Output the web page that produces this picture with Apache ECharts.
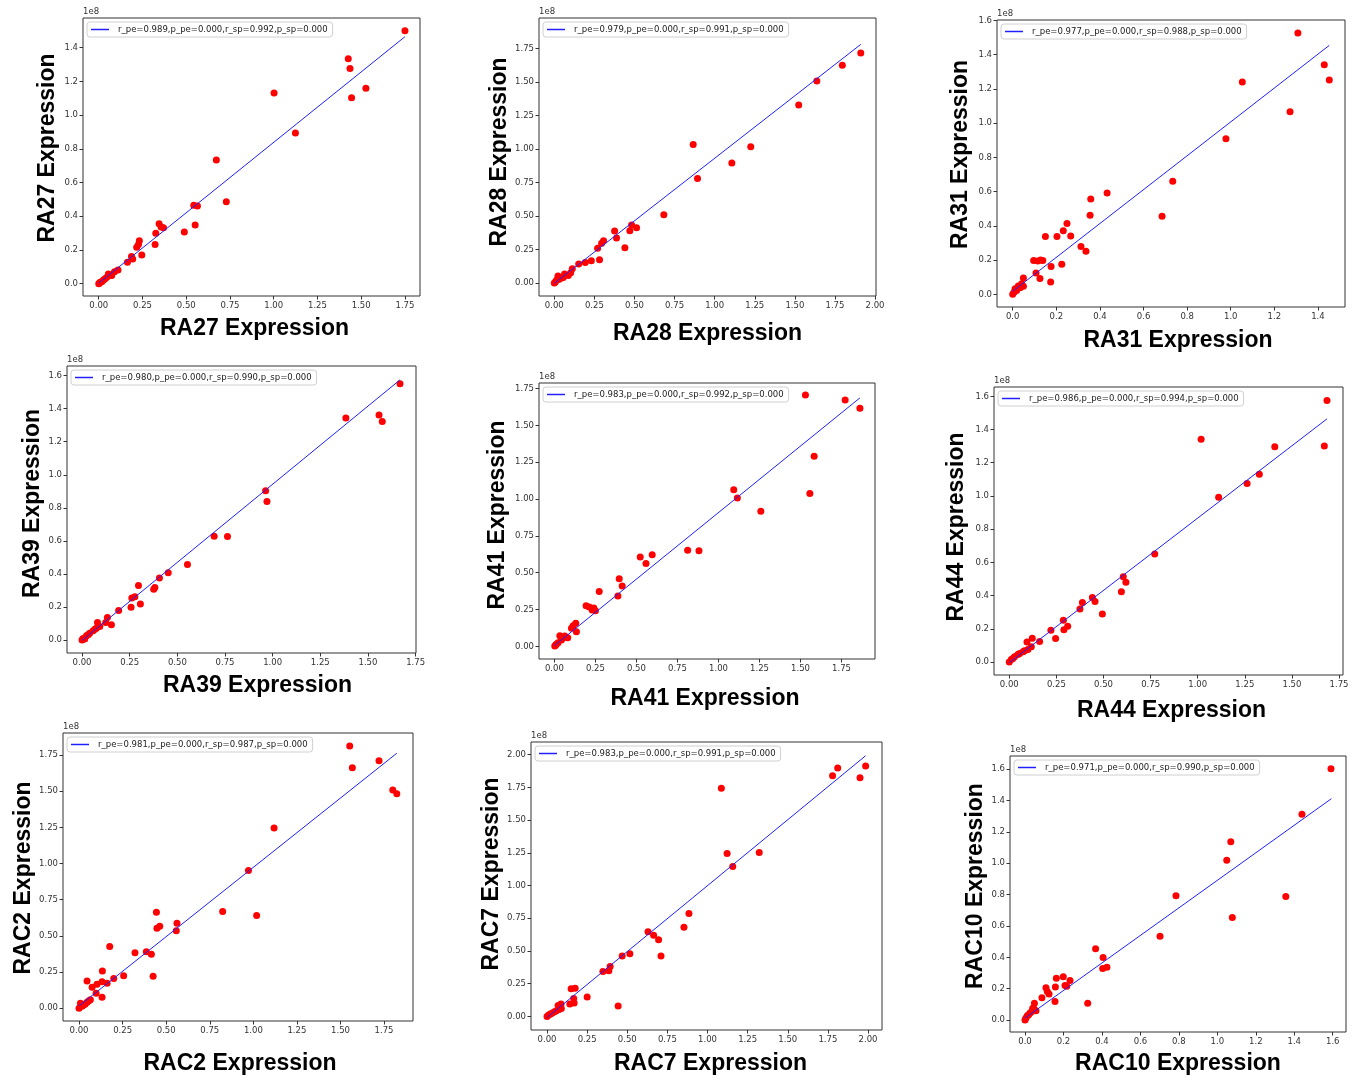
<!DOCTYPE html>
<html>
<head>
<meta charset="utf-8">
<title>Expression scatter</title>
<script src="https://cdn.jsdelivr.net/npm/echarts@6/dist/echarts.min.js"></script>
<style>
  html, body { margin: 0; padding: 0; background: #fff; }
  #main { width: 1361px; height: 1080px; }
</style>
</head>
<body>
<div id="main"></div>
<script>
// values are in units of 1e8
var panelNames = ['RA27', 'RA28', 'RA31', 'RA39', 'RA41', 'RA44', 'RAC2', 'RAC7', 'RAC10'];
var statLabels = [
    'r_pe=0.989,p_pe=0.000,r_sp=0.992,p_sp=0.000',
    'r_pe=0.979,p_pe=0.000,r_sp=0.991,p_sp=0.000',
    'r_pe=0.977,p_pe=0.000,r_sp=0.988,p_sp=0.000',
    'r_pe=0.980,p_pe=0.000,r_sp=0.990,p_sp=0.000',
    'r_pe=0.983,p_pe=0.000,r_sp=0.992,p_sp=0.000',
    'r_pe=0.986,p_pe=0.000,r_sp=0.994,p_sp=0.000',
    'r_pe=0.981,p_pe=0.000,r_sp=0.987,p_sp=0.000',
    'r_pe=0.983,p_pe=0.000,r_sp=0.991,p_sp=0.000',
    'r_pe=0.971,p_pe=0.000,r_sp=0.990,p_sp=0.000'
];

var pointsRA27 = [[1.75,1.501],[1.426,1.335],[1.436,1.277],[1.527,1.159],[1.445,1.103],[1.002,1.131],[1.124,0.894],[0.672,0.734],[0.729,0.486],[0.543,0.465],[0.564,0.461],[0.551,0.348],[0.489,0.307],[0.345,0.356],[0.356,0.336],[0.370,0.332],[0.326,0.299],[0.322,0.233],[0.232,0.255],[0.227,0.233],[0.217,0.216],[0.246,0.170],[0.187,0.162],[0.194,0.146],[0.164,0.127],[0.110,0.081],[0.090,0.071],[0.065,0.051],[0.046,0.038],[0.027,0.022],[0.008,0.008],[0,0],[0.055,0.057],[0.074,0.049],[0.017,0.012],[0.036,0.030],[0.004,0.004]];
var pointsRA28 = [[1.911,1.718],[1.796,1.626],[1.637,1.509],[1.524,1.330],[1.225,1.017],[1.107,0.897],[0.866,1.034],[0.893,0.781],[0.683,0.510],[0.482,0.433],[0.513,0.413],[0.471,0.390],[0.440,0.263],[0.376,0.388],[0.388,0.336],[0.307,0.316],[0.295,0.296],[0.270,0.259],[0.282,0.174],[0.231,0.167],[0.193,0.154],[0.152,0.142],[0.112,0.107],[0.102,0.077],[0.087,0.057],[0.064,0.067],[0.023,0.052],[0.042,0.035],[0.015,0.022],[0,0],[0.006,0.007],[0.056,0.042],[0.027,0.027]];
var pointsRA31 = [[1.308,1.526],[1.429,1.341],[1.452,1.251],[1.053,1.240],[1.272,1.066],[0.978,0.908],[0.734,0.661],[0.685,0.456],[0.433,0.591],[0.358,0.557],[0.355,0.462],[0.249,0.413],[0.232,0.372],[0.266,0.341],[0.203,0.337],[0.150,0.337],[0.313,0.279],[0.336,0.251],[0.225,0.175],[0.176,0.162],[0.174,0.072],[0.096,0.197],[0.115,0.195],[0.128,0.201],[0.138,0.197],[0.107,0.125],[0.125,0.092],[0.049,0.095],[0.041,0.062],[0.026,0.049],[0.011,0.033],[0,0],[0.006,0.012],[0.034,0.039],[0.018,0.023],[0.049,0.047]];
var pointsRA39 = [[1.668,1.550],[1.384,1.344],[1.558,1.362],[1.575,1.322],[0.963,0.904],[0.970,0.839],[0.693,0.628],[0.763,0.626],[0.553,0.457],[0.452,0.407],[0.406,0.376],[0.296,0.330],[0.382,0.318],[0.376,0.308],[0.277,0.262],[0.261,0.254],[0.306,0.219],[0.257,0.199],[0.192,0.179],[0.133,0.137],[0.154,0.093],[0.124,0.107],[0.081,0.107],[0.093,0.083],[0.075,0.072],[0.058,0.056],[0.040,0.042],[0.023,0.026],[0.005,0.010],[0,0],[0.014,0.006],[0.067,0.066],[0.032,0.032]];
var pointsRA41 = [[1.530,1.707],[1.772,1.673],[1.862,1.617],[1.583,1.291],[1.557,1.038],[1.258,0.918],[1.093,1.063],[1.115,1.008],[0.812,0.653],[0.881,0.649],[0.523,0.606],[0.558,0.563],[0.596,0.622],[0.395,0.459],[0.413,0.409],[0.387,0.341],[0.273,0.373],[0.193,0.276],[0.212,0.267],[0.240,0.260],[0.230,0.246],[0.250,0.242],[0.130,0.156],[0.114,0.140],[0.104,0.122],[0.134,0.099],[0.081,0.059],[0.033,0.072],[0.063,0.070],[0.043,0.043],[0.022,0.025],[0.002,0.002],[0.012,0.014],[0.053,0.059],[0.008,0.009]];
var pointsRA44 = [[1.686,1.574],[1.672,1.301],[1.409,1.297],[1.018,1.341],[1.327,1.131],[1.262,1.075],[1.111,0.992],[0.772,0.650],[0.605,0.513],[0.619,0.481],[0.595,0.423],[0.441,0.389],[0.455,0.365],[0.388,0.359],[0.375,0.319],[0.494,0.289],[0.287,0.251],[0.310,0.215],[0.290,0.194],[0.221,0.192],[0.246,0.142],[0.161,0.124],[0.122,0.144],[0.094,0.120],[0.117,0.092],[0.099,0.076],[0.073,0.062],[0.046,0.046],[0.028,0.032],[0.011,0.016],[0,0],[0.019,0.022],[0.055,0.052],[0.081,0.068]];
var pointsRAC2 = [[1.553,1.812],[1.568,1.662],[1.721,1.711],[1.800,1.508],[1.823,1.483],[1.119,1.245],[0.972,0.952],[0.824,0.669],[1.019,0.641],[0.444,0.664],[0.447,0.553],[0.463,0.567],[0.562,0.588],[0.558,0.535],[0.176,0.427],[0.321,0.383],[0.386,0.390],[0.415,0.374],[0.425,0.221],[0.256,0.224],[0.199,0.205],[0.134,0.258],[0.046,0.189],[0.132,0.184],[0.103,0.166],[0.075,0.145],[0.161,0.173],[0.098,0.104],[0.132,0.076],[0.065,0.058],[0.046,0.042],[0.027,0.023],[0.008,0.035],[0,0],[0.017,0.014],[0.055,0.051],[0.036,0.030]];
var pointsRAC7 = [[1.985,1.913],[1.811,1.898],[1.779,1.840],[1.950,1.824],[1.086,1.743],[1.122,1.244],[1.322,1.252],[1.157,1.145],[0.884,0.786],[0.853,0.682],[0.629,0.646],[0.664,0.621],[0.695,0.585],[0.710,0.461],[0.516,0.478],[0.468,0.461],[0.393,0.382],[0.385,0.349],[0.348,0.344],[0.250,0.148],[0.443,0.079],[0.150,0.211],[0.175,0.216],[0.166,0.137],[0.169,0.102],[0.142,0.094],[0.087,0.094],[0.069,0.084],[0.089,0.061],[0.058,0.043],[0.033,0.025],[0.010,0.010],[0,0],[0.021,0.018],[0.075,0.053],[0.046,0.036]];
var pointsRAC10 = [[1.591,1.602],[1.440,1.311],[1.070,1.137],[1.049,1.019],[1.356,0.787],[1.078,0.654],[0.785,0.792],[0.702,0.535],[0.367,0.454],[0.406,0.399],[0.404,0.329],[0.426,0.337],[0.326,0.108],[0.163,0.267],[0.199,0.276],[0.234,0.253],[0.208,0.221],[0.217,0.216],[0.158,0.210],[0.109,0.206],[0.116,0.182],[0.125,0.166],[0.088,0.142],[0.156,0.119],[0.049,0.108],[0.057,0.059],[0.040,0.076],[0.026,0.045],[0.012,0.028],[0,0],[0.005,0.013],[0.035,0.055],[0.019,0.034],[0.047,0.070]];

// fitted line end points
var fitRA27 = [[0, 0.003], [1.75, 1.465]];
var fitRA28 = [[0, -0.002], [1.911, 1.782]];
var fitRA31 = [[0, 0.018], [1.452, 1.454]];
var fitRA39 = [[0, -0.002], [1.668, 1.574]];
var fitRA41 = [[0, 0.005], [1.862, 1.687]];
var fitRA44 = [[0, -0.004], [1.686, 1.464]];
var fitRAC2 = [[0, 0.016], [1.823, 1.762]];
var fitRAC7 = [[0, -0.008], [1.985, 1.992]];
var fitRAC10 = [[0, 0.013], [1.593, 1.411]];

// axis limits [min, max]
var xLimits = [[-0.09, 1.836], [-0.0955, 2.006], [-0.072, 1.524], [-0.079, 1.752], [-0.094, 1.954], [-0.081, 1.771], [-0.092, 1.916], [-0.100, 2.087], [-0.078, 1.669]];
var yLimits = [[-0.073, 1.576], [-0.097, 1.979], [-0.074, 1.602], [-0.078, 1.658], [-0.086, 1.788], [-0.078, 1.656], [-0.088, 1.902], [-0.104, 2.097], [-0.076, 1.683]];

// tick labels
var ticksQuarter = [0, 0.25, 0.5, 0.75, 1.0, 1.25, 1.5, 1.75, 2.0];
var ticksFifth = [0, 0.2, 0.4, 0.6, 0.8, 1.0, 1.2, 1.4, 1.6];

var allPoints = [pointsRA27, pointsRA28, pointsRA31, pointsRA39, pointsRA41, pointsRA44, pointsRAC2, pointsRAC7, pointsRAC10];
var allFits = [fitRA27, fitRA28, fitRA31, fitRA39, fitRA41, fitRA44, fitRAC2, fitRAC7, fitRAC10];
var xTickSets = [ticksQuarter, ticksQuarter, ticksFifth, ticksQuarter, ticksQuarter, ticksQuarter, ticksQuarter, ticksQuarter, ticksFifth];
var yTickSets = [ticksFifth, ticksQuarter, ticksFifth, ticksFifth, ticksQuarter, ticksFifth, ticksQuarter, ticksQuarter, ticksFifth];

// layout of each panel (pixels)
var layout = [
    {left: 83,   top: 18,  width: 337, height: 278, xGap: 21, yGap: 24, xShift: 3,  yShift: -9},
    {left: 539,  top: 18,  width: 337, height: 278, xGap: 26, yGap: 24, xShift: 0,  yShift: -5},
    {left: 997,  top: 20,  width: 348, height: 287, xGap: 22, yGap: 25, xShift: 7,  yShift: -9},
    {left: 67,   top: 366, width: 349, height: 287, xGap: 21, yGap: 22, xShift: 16, yShift: -6},
    {left: 539,  top: 383, width: 336, height: 276, xGap: 28, yGap: 30, xShift: -2, yShift: -6},
    {left: 994,  top: 387, width: 349, height: 288, xGap: 24, yGap: 26, xShift: 3,  yShift: -4},
    {left: 63,   top: 733, width: 350, height: 288, xGap: 31, yGap: 28, xShift: 2,  yShift: 1},
    {left: 531,  top: 742, width: 351, height: 288, xGap: 22, yGap: 26, xShift: 4,  yShift: -12},
    {left: 1010, top: 756, width: 336, height: 276, xGap: 20, yGap: 23, xShift: 0,  yShift: -8}
];

var titleFont = '"Liberation Sans", Arial, sans-serif';
var tickFont = '"DejaVu Sans", sans-serif';

function shiftPad(d) {
    return d >= 0 ? [0, 0, 0, 2 * d] : [0, -2 * d, 0, 0];
}

function decimals(ticks) {
    return ticks === ticksQuarter ? 2 : 1;
}

function makeAxis(limits, ticks, name, gap, pad) {
    var vals = ticks.filter(function (v) { return v >= limits[0] && v <= limits[1] + 1e-9; });
    var dec = decimals(ticks);
    return {
        type: 'value',
        min: limits[0],
        max: limits[1],
        name: name,
        nameLocation: 'middle',
        nameGap: gap,
        nameTextStyle: {
            fontFamily: titleFont,
            fontWeight: 'bold',
            fontSize: 23,
            color: '#000',
            padding: pad
        },
        axisLine: {show: false, onZero: false},
        splitLine: {show: false},
        axisTick: {
            show: true,
            inside: false,
            length: 3.5,
            customValues: vals,
            lineStyle: {color: '#333', width: 1}
        },
        axisLabel: {
            customValues: vals,
            formatter: function (v) { return v.toFixed(dec); },
            fontFamily: tickFont,
            fontSize: 8.5,
            color: '#333',
            margin: 5
        }
    };
}

var myChart = echarts.init(document.getElementById('main'));
var option = {
    backgroundColor: '#fff',
    animation: false,
    grid: [],
    xAxis: [],
    yAxis: [],
    legend: [],
    graphic: [],
    series: []
};

panelNames.forEach(function (name, i) {
    var L = layout[i];
    option.grid.push({
        left: L.left, top: L.top, width: L.width, height: L.height,
        show: true, borderColor: '#333', borderWidth: 1,
        backgroundColor: 'transparent'
    });
    option.xAxis.push(makeAxis(xLimits[i], xTickSets[i], name + ' Expression', L.xGap, shiftPad(L.xShift)));
    option.yAxis.push(makeAxis(yLimits[i], yTickSets[i], name + ' Expression', L.yGap, shiftPad(-L.yShift)));
    option.xAxis[i].gridIndex = i;
    option.yAxis[i].gridIndex = i;

    // legend: a thin bar stands in for the line sample
    option.legend.push({
        data: [statLabels[i]],
        left: L.left + 4,
        top: L.top + 4,
        icon: 'rect',
        itemWidth: 18,
        itemHeight: 1.5,
        padding: [3, 5, 3, 4],
        borderColor: '#d0d0d0',
        borderWidth: 1,
        borderRadius: 3,
        backgroundColor: 'rgba(255,255,255,0.8)',
        selectedMode: false,
        textStyle: {fontFamily: tickFont, fontSize: 8.5, color: '#222', padding: [0, 0, 0, 4]}
    });

    option.graphic.push({
        type: 'text',
        left: L.left,
        top: L.top - 11,
        style: {text: '1e8', fontFamily: tickFont, fontSize: 8.5, fill: '#333'}
    });

    option.series.push({
        type: 'scatter',
        name: name + ' samples',
        xAxisIndex: i,
        yAxisIndex: i,
        data: allPoints[i],
        symbolSize: 7,
        silent: true,
        itemStyle: {color: '#ff0000', opacity: 1},
        z: 2
    });
    option.series.push({
        type: 'line',
        name: statLabels[i],
        xAxisIndex: i,
        yAxisIndex: i,
        data: allFits[i],
        symbol: 'none',
        silent: true,
        lineStyle: {color: '#2020ff', width: 1},
        itemStyle: {color: '#2020ff'},
        z: 3
    });
});

myChart.setOption(option);
</script>
</body>
</html>
